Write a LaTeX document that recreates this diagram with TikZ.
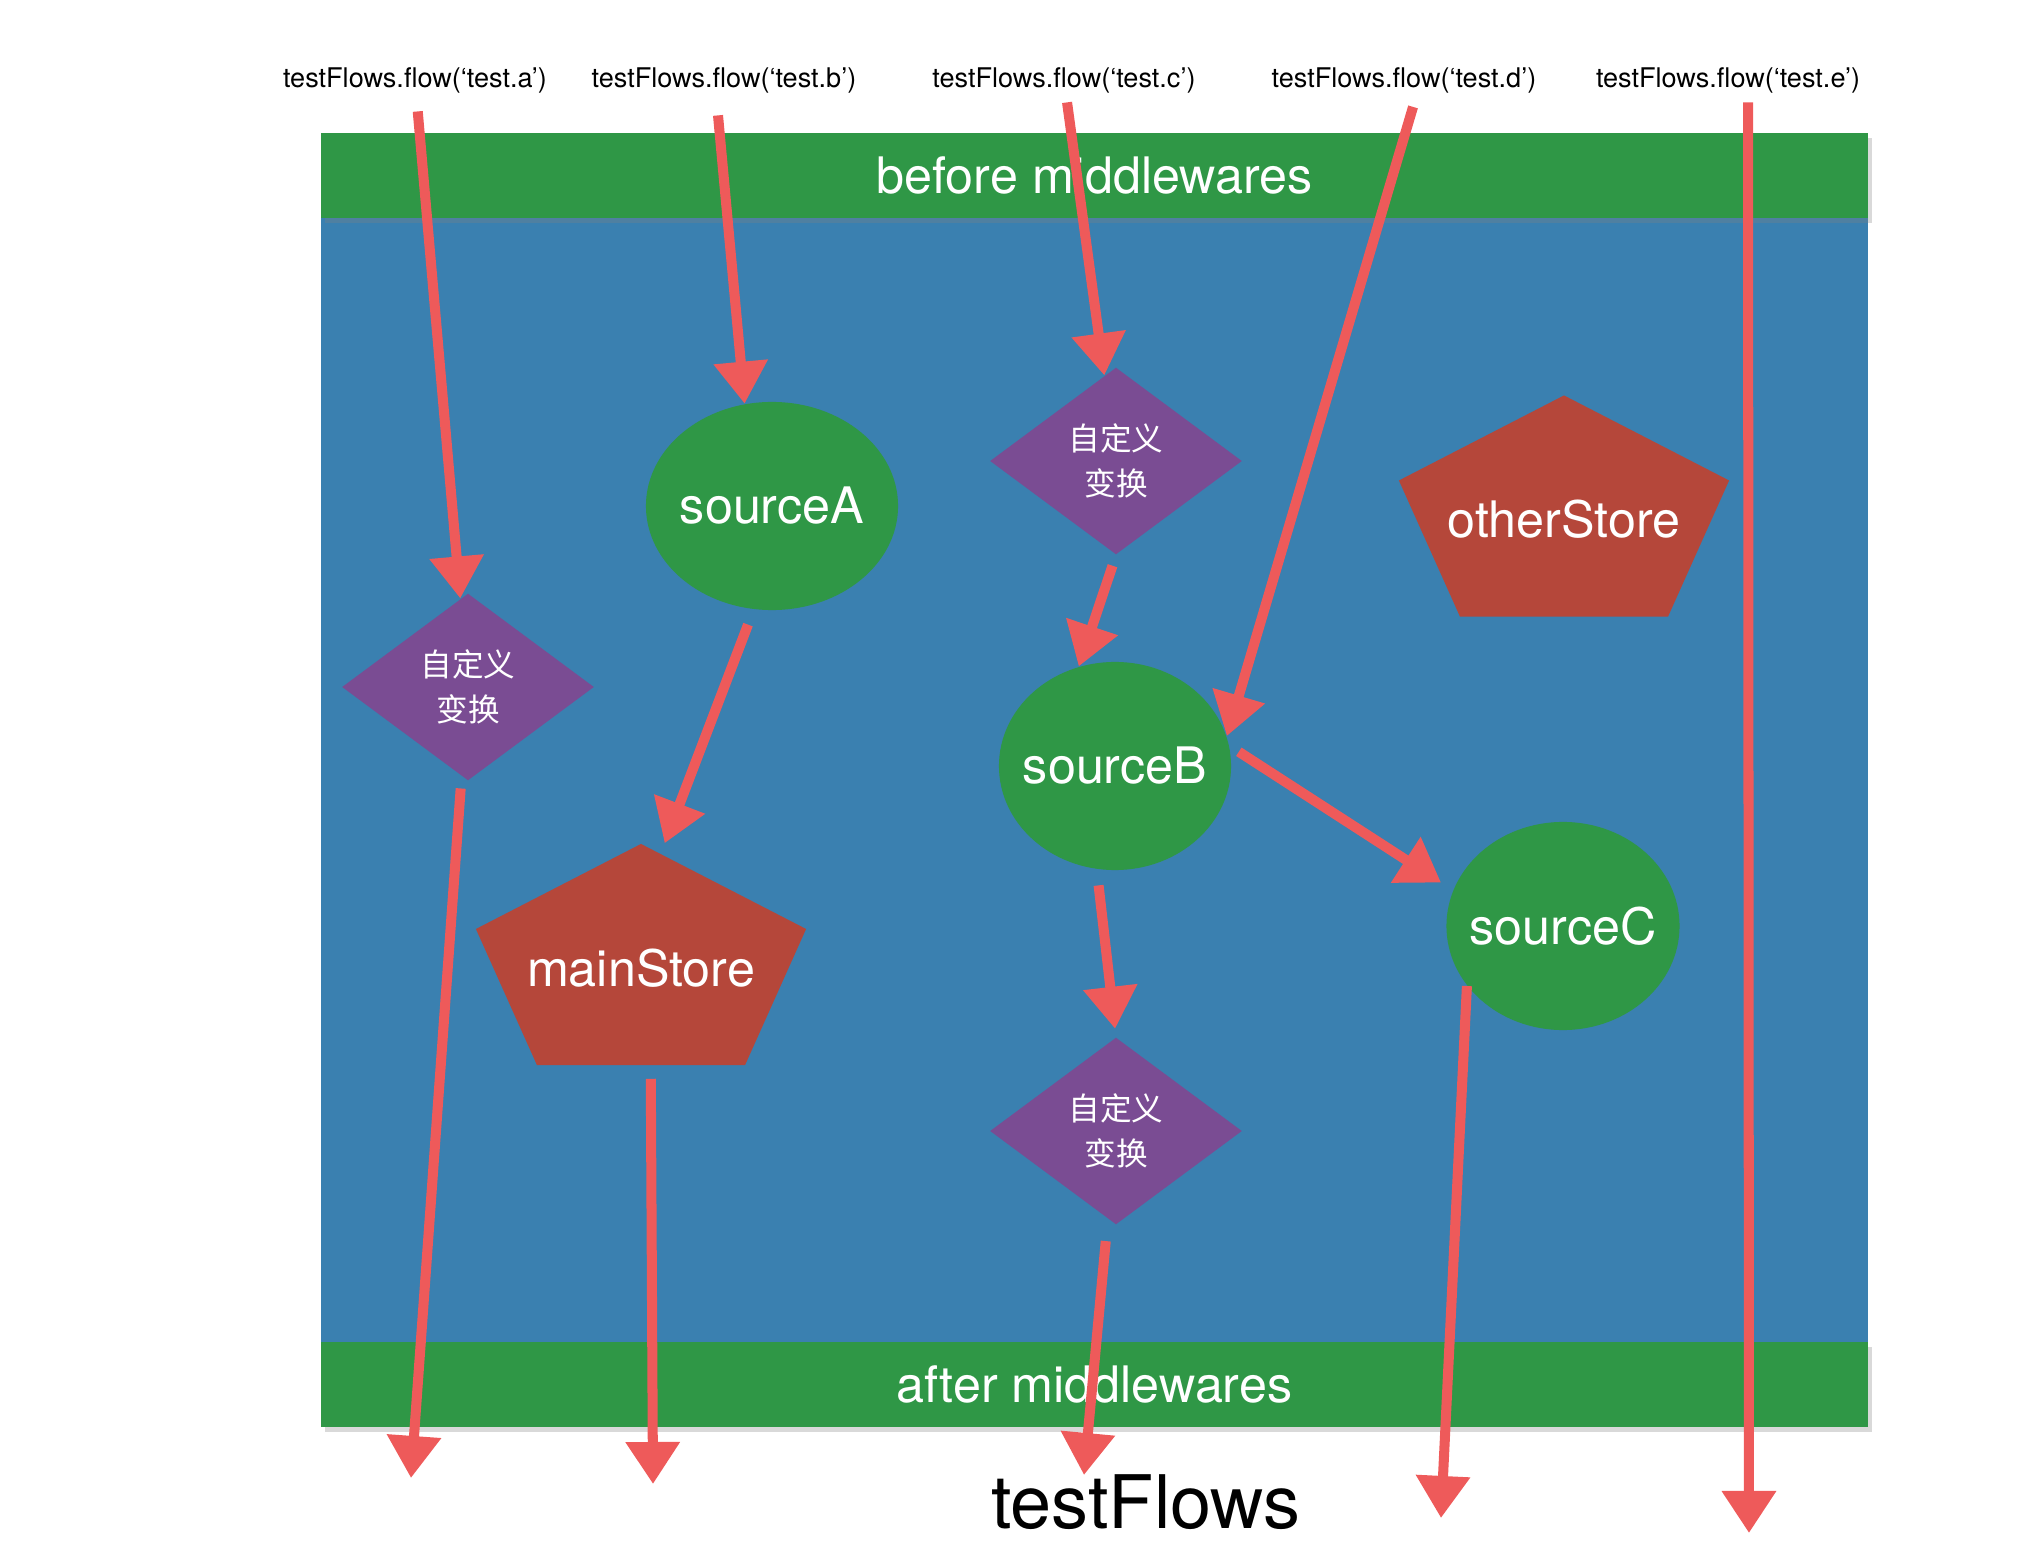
\documentclass[tikz,border=0pt]{standalone}
\usepackage{fontspec}
\setmainfont{TeX Gyre Heros}
\newfontfamily\cjk{Noto Sans CJK SC}
\usetikzlibrary{arrows.meta,positioning,shapes.geometric,shadows}
\definecolor{boardblue}{HTML}{3A80B0}
\definecolor{bandgreen}{HTML}{2F9746}
\definecolor{storered}{HTML}{B5473A}
\definecolor{mapviolet}{HTML}{7A4C93}
\definecolor{flowred}{HTML}{EE5A5A}

\begin{document}
\begin{tikzpicture}[x=0.01cm, y=-0.01cm, >={Triangle[width=0.52cm,length=0.42cm]},
  every node/.style={inner sep=0pt},
  call/.style={font=\fontsize{7.7}{9}\selectfont},
  board/.style={fill=boardblue,minimum width=15.47cm,minimum height=12.94cm},
  band/.style={fill=bandgreen,minimum width=15.47cm,minimum height=0.85cm,text=white,font=\fontsize{14.3}{16}\selectfont,drop shadow={opacity=0.3,shadow xshift=0.04cm,shadow yshift=-0.05cm}},
  source/.style={ellipse,fill=bandgreen,inner xsep=-0.6cm,inner ysep=-0.1cm,text=white,font=\fontsize{14.3}{16}\selectfont},
  mapper/.style={diamond,aspect=1.34,fill=mapviolet,minimum width=2.52cm,minimum height=1.87cm,text=white,align=center,font=\cjk\fontsize{9}{12.8}\selectfont},
  store/.style={fill=boardblue,minimum width=3.3cm,minimum height=2.21cm,
    path picture={\fill[storered] (path picture bounding box.north)
      -- ([yshift=-0.85cm]path picture bounding box.north east)
      -- ([xshift=-0.61cm]path picture bounding box.south east)
      -- ([xshift=0.61cm]path picture bounding box.south west)
      -- ([yshift=-0.85cm]path picture bounding box.north west) -- cycle;},
    label={[text=white,font=\fontsize{14.3}{16}\selectfont,yshift=-0.135cm]center:#1}},
  flow/.style={->,draw=flowred,line width=2.85pt}]
\useasboundingbox (0,0) rectangle (2029,1564);

% board and middleware bands
\node[board] (board) at (1094.5,780) {};
\node[band,below=0pt of board.north] (before) {before middlewares};
\node[band,above=0pt of board.south] (after) {after middlewares};

% flow calls
\node[call] (callA) at (415,80) {testFlows.flow(‘test.a’)};
\node[call] (callB) at (724,80) {testFlows.flow(‘test.b’)};
\node[call] (callC) at (1064,80) {testFlows.flow(‘test.c’)};
\node[call] (callD) at (1404,80) {testFlows.flow(‘test.d’)};
\node[call] (callE) at (1728,80) {testFlows.flow(‘test.e’)};

% sources, transforms, stores
\node[source,minimum width=2.52cm,minimum height=2.08cm] (sourceA) at (772,506) {sourceA};
\node[source,minimum width=2.32cm,minimum height=2.08cm] (sourceB) at (1115,766) {sourceB};
\node[source,minimum width=2.33cm,minimum height=2.08cm] (sourceC) at (1563,926) {sourceC};
\node[mapper] (mapA) at (468,687) {自定义\\变换};
\node[mapper] (mapC1) at (1116,461) {自定义\\变换};
\node[mapper] (mapC2) at (1116,1131) {自定义\\变换};
\node[store=mainStore] (mainStore) at (641,954.5) {};
\node[store=otherStore] (otherStore) at (1564,506) {};

\node[font=\fontsize{21}{24}\selectfont] (title) at (1146,1502) {testFlows};

% end points below the board
\coordinate (outA) at (411,1478);
\coordinate (outB) at (653,1484);
\coordinate (outC) at (1084,1475);
\coordinate (outD) at (1441,1518);
\coordinate (outE) at (1749,1533);

% flows
\draw[flow,shorten <=0.18cm] (callA) -- (mapA);
\draw[flow,shorten <=0.12cm] (mapA) -- (outA);
\draw[flow,shorten <=0.22cm] ([xshift=-0.08cm]callB.south) -- (sourceA.105);
\draw[flow,shorten <=0.16cm] (sourceA.260) -- (mainStore.78);
\draw[flow,shorten <=0.13cm] (mainStore.-85) -- (outB);
\draw[flow,shorten <=0.09cm] (callC) -- (mapC1);
\draw[flow,shorten <=0.11cm] (mapC1.south) -- (sourceB.110);
\draw[flow,shorten <=0.16cm,shorten >=0.08cm] (sourceB.260) -- (mapC2.north);
\draw[flow,shorten <=0.22cm] (mapC2) -- (outC);
\draw[flow,shorten <=0.14cm] ([xshift=0.13cm]callD.south) -- (sourceB.15);
\draw[flow,shorten <=0.11cm,shorten >=0.14cm] (sourceB.10) -- (sourceC.162);
\draw[flow] (sourceC.212) -- (outD);
\draw[flow,shorten <=0.09cm] ([xshift=0.2cm]callE.south) -- (outE);
\end{tikzpicture}
\end{document}
